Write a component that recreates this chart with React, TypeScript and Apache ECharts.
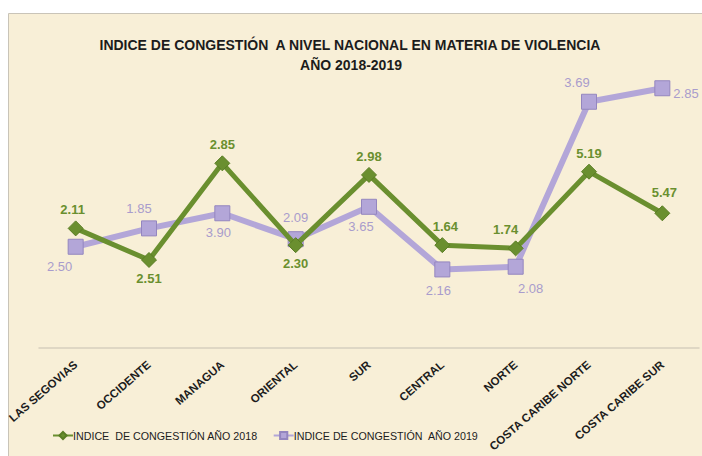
import React, { useEffect, useRef } from "react";
import * as echarts from "echarts";

const categories = ["LAS SEGOVIAS", "OCCIDENTE", "MANAGUA", "ORIENTAL", "SUR", "CENTRAL", "NORTE", "COSTA CARIBE NORTE", "COSTA CARIBE SUR"];
// plotted heights
const plotted2018 = [4.43, 3.26, 6.84, 3.81, 6.41, 3.81, 3.69, 6.53, 4.99];
const plotted2019 = [3.75, 4.43, 4.99, 4.03, 5.23, 2.91, 3.01, 9.12, 9.62];
// data labels as printed on the chart
const labels2018 = ["2.11", "2.51", "2.85", "2.30", "2.98", "1.64", "1.74", "5.19", "5.47"];
const labels2019 = ["2.50", "1.85", "3.90", "2.09", "3.65", "2.16", "2.08", "3.69", "2.85"];
const seriesNames = ["INDICE  DE CONGESTIÓN AÑO 2018", "INDICE DE CONGESTIÓN  AÑO 2019"];
const titleLines = ["INDICE DE CONGESTIÓN  A NIVEL NACIONAL EN MATERIA DE VIOLENCIA", "AÑO 2018-2019"];

const pos2018: any[] = [
  { position: "top", offset: [-3, 0] },
  { position: "bottom", offset: [0, 0] },
  { position: "top", offset: [0, 0] },
  { position: "bottom", offset: [0, 0] },
  { position: "top", offset: [0, 0] },
  { position: "top", offset: [3, 0] },
  { position: "top", offset: [-10, 0] },
  { position: "top", offset: [0, 0] },
  { position: "top", offset: [2, -2] },
];
const pos2019: any[] = [
  { position: "bottom", offset: [-16, 0] },
  { position: "top", offset: [-10, 0] },
  { position: "bottom", offset: [-4, 0] },
  { position: "top", offset: [0, -2] },
  { position: "bottom", offset: [-8, 0] },
  { position: "bottom", offset: [-4, 2] },
  { position: "bottom", offset: [15, 2] },
  { position: "top", offset: [-12, 0] },
  { position: "right", offset: [-2, 5] },
];

const FONT = "'Liberation Sans', Arial, sans-serif";

export default function App() {
  const ref = useRef<HTMLDivElement>(null);
  useEffect(() => {
    const chart = echarts.init(ref.current!, null, { renderer: "svg" });
    const green = "#6a8f2f";
    const purple = "#b3a6d8";
    chart.setOption({
      animation: false,
      backgroundColor: "#ffffff",
      graphic: [
        {
          type: "rect",
          z: -10,
          shape: { x: 8.5, y: 13.5, width: 700, height: 450 },
          style: { fill: "#f8efd7", stroke: "#c9c4b8", lineWidth: 1 },
        },
        {
          type: "text",
          left: "center",
          top: 38,
          style: { text: titleLines[0], font: `bold 14px ${FONT}`, fill: "#1c1c1c" },
        },
        {
          type: "text",
          left: "center",
          top: 58,
          style: { text: titleLines[1], font: `bold 14px ${FONT}`, fill: "#1c1c1c" },
        },
      ],
      legend: {
        bottom: 10,
        left: 47,
        itemWidth: 20,
        itemHeight: 9,
        itemGap: 15,
        textStyle: { fontFamily: FONT, fontSize: 10.7, color: "#1c1c1c", padding: [0, 0, 0, -5] },
        data: seriesNames,
      },
      grid: { left: 39, right: 3, top: 78, bottom: 108 },
      xAxis: {
        type: "category",
        data: categories,
        axisLine: { lineStyle: { color: "#d6cfbf", width: 1.5 } },
        axisTick: { show: false },
        axisLabel: {
          rotate: 41,
          margin: 15,
          interval: 0,
          fontFamily: FONT,
          fontWeight: "bold",
          fontSize: 11.5,
          color: "#1c1c1c",
        },
      },
      yAxis: { type: "value", min: 0, max: 10, show: false, splitLine: { show: false } },
      series: [
        {
          name: seriesNames[0],
          type: "line",
          z: 3,
          symbol: "diamond",
          symbolSize: 15,
          itemStyle: { color: green, borderColor: "#5a7d25", borderWidth: 1 },
          lineStyle: { color: green, width: 5 },
          label: {
            show: true,
            distance: 4,
            fontFamily: FONT,
            fontWeight: "bold",
            fontSize: 13,
            color: green,
          },
          data: plotted2018.map((v, i) => ({
            value: v,
            label: { ...pos2018[i], formatter: labels2018[i] },
          })),
        },
        {
          name: seriesNames[1],
          type: "line",
          z: 2,
          symbol: "rect",
          symbolSize: 15,
          itemStyle: { color: purple, borderColor: "#9486bf", borderWidth: 1 },
          lineStyle: { color: purple, width: 6 },
          label: {
            show: true,
            distance: 5,
            fontFamily: FONT,
            fontSize: 13,
            color: "#a99ccc",
          },
          data: plotted2019.map((v, i) => ({
            value: v,
            label: { ...pos2019[i], formatter: labels2019[i] },
          })),
        },
      ],
    });
    return () => chart.dispose();
  }, []);
  return (
    <div
      ref={ref}
      style={{ position: "absolute", left: 0, top: 0, width: 702, height: 456 }}
    />
  );
}
